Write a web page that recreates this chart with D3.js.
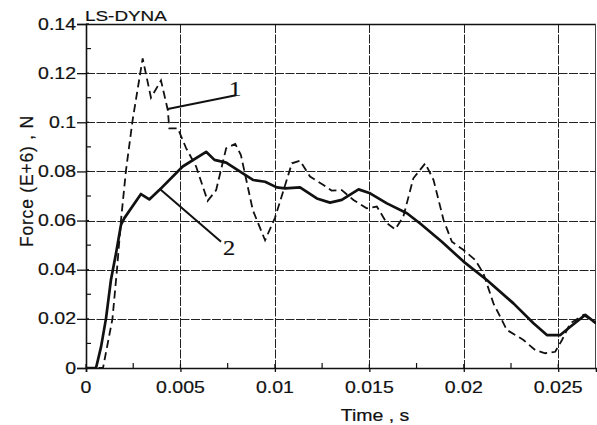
<!DOCTYPE html>
<html><head><meta charset="utf-8">
<script src="https://cdn.jsdelivr.net/npm/d3@7"></script>
<style>body{margin:0;background:#fff}svg{display:block}</style>
</head><body>
<svg id="c" width="597" height="425"></svg>
<script>
// ---- data ----
const xTicks = [0, 0.005, 0.01, 0.015, 0.02, 0.025];
const xTickLabels = ["0", "0.005", "0.01", "0.015", "0.02", "0.025"];
const yTicks = [0, 0.02, 0.04, 0.06, 0.08, 0.1, 0.12, 0.14];
const yTickLabels = ["0", "0.02", "0.04", "0.06", "0.08", "0.1", "0.12", "0.14"];
const xMinor = [0.0025, 0.0075, 0.0125, 0.0175, 0.0225];
const yMinor = [0.01, 0.03, 0.05, 0.07, 0.09, 0.11, 0.13];

const time1 = [0,0.0009,0.0011,0.0014,0.00164,0.00185,0.00212,0.00247,0.0030,0.00344,0.00397,0.00433,0.00441,0.00486,0.0053,0.00583,0.00644,0.00689,0.00742,0.0079,0.0082,0.00883,0.00948,0.0100,0.0109,0.01133,0.01186,0.01257,0.0130,0.01354,0.01416,0.01486,0.0154,0.01593,0.01637,0.0168,0.01733,0.01796,0.0184,0.01893,0.01937,0.01999,0.0206,0.02104,0.02157,0.02228,0.02316,0.02378,0.02431,0.02484,0.0252,0.02564,0.02634,0.027];
const force1 = [0,0,0.008,0.02,0.04,0.06,0.0806,0.101,0.126,0.110,0.117,0.105,0.0975,0.0975,0.0895,0.082,0.068,0.0724,0.0894,0.0912,0.0867,0.0643,0.052,0.061,0.0833,0.0844,0.0779,0.0745,0.0722,0.0724,0.0684,0.065,0.0657,0.0589,0.0564,0.0616,0.0772,0.0833,0.0765,0.0602,0.0514,0.048,0.044,0.0385,0.0263,0.0155,0.0114,0.0073,0.006,0.0066,0.0114,0.0182,0.0216,0.0182];

const time2 = [0,0.00053,0.0008,0.00106,0.00132,0.00159,0.00185,0.00203,0.00291,0.00335,0.00388,0.00512,0.00636,0.0068,0.00742,0.00816,0.00886,0.00948,0.0101,0.01054,0.01133,0.01222,0.01292,0.01354,0.01443,0.01504,0.01593,0.01699,0.01769,0.01884,0.01999,0.02122,0.02263,0.02369,0.0244,0.02511,0.02564,0.02643,0.027];
const force2 = [0,0,0.0087,0.0202,0.0358,0.0467,0.0582,0.061,0.0708,0.0686,0.0724,0.082,0.088,0.0847,0.0836,0.0799,0.0765,0.0758,0.0735,0.0731,0.0735,0.069,0.0673,0.0684,0.0727,0.0711,0.067,0.063,0.0588,0.0514,0.0433,0.0358,0.0263,0.0182,0.0134,0.0134,0.0168,0.0216,0.0182];

const leader1 = [[0.00433,0.1054],[0.00794,0.111]];
const leader2 = [[0.00388,0.0731],[0.00715,0.0514]];
const labelNames = ["1","2"];
const labelPos = [[0.00789,0.1107],[0.00757,0.046]];

const titleText = "LS-DYNA";
const xTitle = "Time , s";
const yTitle = "Force (E+6) , N";

// ---- chart ----
const svg = d3.select("#c");
const L = 86, R = 596, T = 24, B = 368;
const x = d3.scaleLinear().domain([0, 0.027]).range([L, R]);
const y = d3.scaleLinear().domain([0, 0.14]).range([B, T]);
const SX = 1.22;
const sans = "'Liberation Sans', Arial, sans-serif";
const serif = "'Liberation Serif', 'Times New Roman', serif";

function txt(px, py, s, size, anchor, family) {
  return svg.append("text")
    .attr("transform", `translate(${px},${py}) scale(${SX},1)`)
    .attr("text-anchor", anchor)
    .style("font-family", family || sans)
    .style("font-size", size + "px")
    .attr("fill", "#111").attr("stroke", "#111").attr("stroke-width", 0.2)
    .text(s);
}

// grid
const grid = svg.append("g").attr("stroke", "#222").attr("stroke-width", 1)
  .attr("stroke-dasharray", "9,1.5");
grid.selectAll("line.v").data(xTicks.filter(d => d > 0)).enter().append("line")
  .attr("x1", d => Math.round(x(d)) + 0.5).attr("x2", d => Math.round(x(d)) + 0.5)
  .attr("y1", T).attr("y2", B);
grid.selectAll("line.h").data(yTicks.filter(d => d > 0 && d < 0.14)).enter().append("line")
  .attr("y1", d => Math.round(y(d)) + 0.5).attr("y2", d => Math.round(y(d)) + 0.5)
  .attr("x1", L).attr("x2", R);

// frame
svg.append("line").attr("x1", L).attr("x2", R).attr("y1", T + 0.5).attr("y2", T + 0.5).attr("stroke", "#111").attr("stroke-width", 1.4);
svg.append("line").attr("x1", R - 0.5).attr("x2", R - 0.5).attr("y1", T).attr("y2", B).attr("stroke", "#444").attr("stroke-width", 1);

// axes (library axes for tick marks, outer part)
const yAxis = d3.axisLeft(y).tickValues(yTicks).tickSize(9).tickFormat(() => "");
const gy = svg.append("g").attr("transform", `translate(${L},0)`).call(yAxis);
gy.select(".domain").attr("stroke", "#111").attr("stroke-width", 1.6);
gy.selectAll(".tick line").attr("stroke", "#111").attr("stroke-width", 1.3);

const xAxis = d3.axisBottom(x).tickValues(xTicks).tickSize(4).tickFormat(() => "");
const gx = svg.append("g").attr("transform", `translate(0,${B})`).call(xAxis);
gx.select(".domain").attr("stroke", "#111").attr("stroke-width", 1.6);
gx.selectAll(".tick line").attr("stroke", "#111").attr("stroke-width", 1.3);

// inner ticks
const it = svg.append("g").attr("stroke", "#111").attr("stroke-width", 1.2);
yTicks.forEach(d => it.append("line").attr("x1", L).attr("x2", L + 3).attr("y1", y(d)).attr("y2", y(d)));
yMinor.forEach(d => it.append("line").attr("x1", L).attr("x2", L + 5).attr("y1", y(d)).attr("y2", y(d)));
xTicks.forEach(d => it.append("line").attr("x1", x(d)).attr("x2", x(d)).attr("y1", B).attr("y2", B - 4));
xMinor.forEach(d => it.append("line").attr("x1", x(d)).attr("x2", x(d)).attr("y1", B).attr("y2", B - 5));

// tick labels
yTicks.forEach((d, i) => txt(L - 10, y(d) + 5.5, yTickLabels[i], 16, "end"));
xTicks.forEach((d, i) => txt(x(d), B + 25, xTickLabels[i], 16, "middle"));

// titles
txt(L - 1, 21, titleText, 15.5, "start");
txt(375, 421, xTitle, 16, "middle");
svg.append("text")
  .attr("transform", `translate(33,181) rotate(-90)`)
  .attr("text-anchor", "middle")
  .style("font-family", sans).style("font-size", "17.5px")
  .style("letter-spacing", "0.8px")
  .attr("fill", "#111").attr("stroke", "#111").attr("stroke-width", 0.2).text(yTitle);

// series
const line = d3.line().x(d => x(d[0])).y(d => y(d[1]));
const s1 = time1.map((t, i) => [t, force1[i]]);
const s2 = time2.map((t, i) => [t, force2[i]]);
svg.append("clipPath").attr("id", "pc").append("rect")
  .attr("x", L).attr("y", T).attr("width", R - L).attr("height", B - T + 1);
svg.append("path").datum(s1).attr("d", line).attr("fill", "none")
  .attr("stroke", "#111").attr("stroke-width", 1.8).attr("stroke-dasharray", "8,4.5")
  .attr("clip-path", "url(#pc)");
svg.append("path").datum(s2).attr("d", line).attr("fill", "none")
  .attr("stroke", "#111").attr("stroke-width", 2.7).attr("stroke-linejoin", "round")
  .attr("clip-path", "url(#pc)");

// annotations
[leader1, leader2].forEach(seg => svg.append("path").datum(seg).attr("d", line)
  .attr("fill", "none").attr("stroke", "#111").attr("stroke-width", 2));
labelNames.forEach((s, i) => txt(x(labelPos[i][0]), y(labelPos[i][1]), s, 20, "middle", serif));
</script>
</body></html>
